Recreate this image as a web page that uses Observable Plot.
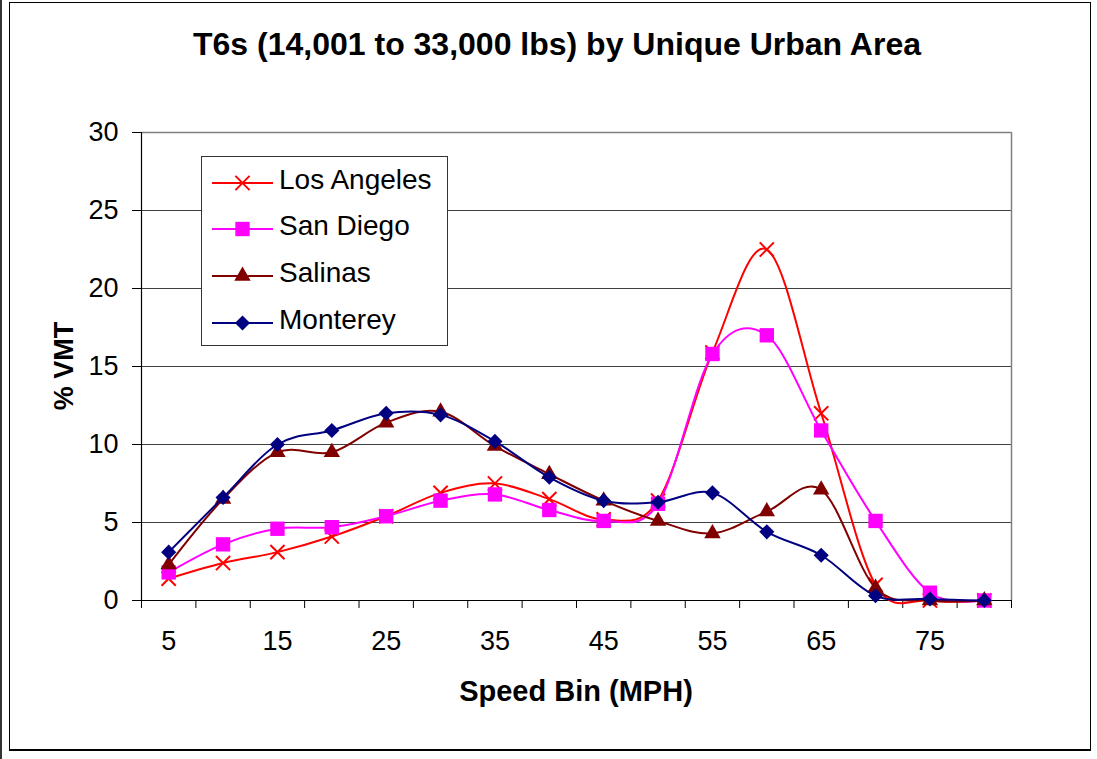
<!DOCTYPE html>
<html>
<head>
<meta charset="utf-8">
<script src="https://cdn.jsdelivr.net/npm/d3@7"></script>
<script src="https://cdn.jsdelivr.net/npm/@observablehq/plot@0.6"></script>
<style>
  html, body { margin: 0; padding: 0; background: #fff; }
  #chart { position: relative; width: 1097px; height: 759px; overflow: hidden; font-family: "Liberation Sans", Arial, sans-serif; }
  #chart > * { position: absolute; }
  #frame { left: 9px; top: 2px; width: 1082px; height: 749px; box-sizing: border-box; border: 1px solid #000; border-bottom-width: 2px; }
  #edge { left: 0; top: 0; width: 2px; height: 759px; background: #333; }
  #legend { left: 201px; top: 156px; width: 247px; height: 190px; box-sizing: border-box; border: 1px solid #333; background: #fff; }
</style>
</head>
<body>
<div id="chart">
  <div id="edge"></div>
  <div id="frame"></div>
</div>
<script>
// ---- data ----
const bins = [5, 10, 15, 20, 25, 30, 35, 40, 45, 50, 55, 60, 65, 70, 75, 80];
const losAngeles = [1.4, 2.4, 3.1, 4.1, 5.4, 6.9, 7.5, 6.5, 5.2, 6.4, 15.9, 22.5, 12.0, 1.0, 0, 0];
const sanDiego   = [1.8, 3.6, 4.6, 4.7, 5.4, 6.4, 6.8, 5.8, 5.1, 6.2, 15.8, 17.0, 10.9, 5.1, 0.5, 0];
const salinas    = [2.3, 6.5, 9.5, 9.5, 11.4, 12.1, 9.9, 8.1, 6.4, 5.1, 4.3, 5.7, 7.1, 0.8, 0, 0];
const monterey   = [3.1, 6.6, 10.0, 10.9, 12.0, 11.9, 10.2, 7.9, 6.4, 6.3, 6.9, 4.4, 2.9, 0.3, 0.1, 0];
const seriesNames = ["Los Angeles", "San Diego", "Salinas", "Monterey"];
const xTickLabels = [5, 15, 25, 35, 45, 55, 65, 75];
const xBinEdges = [2.5, 7.5, 12.5, 17.5, 22.5, 27.5, 32.5, 37.5, 42.5, 47.5, 52.5, 57.5, 62.5, 67.5, 72.5, 77.5, 82.5];
const yTicks = [0, 5, 10, 15, 20, 25, 30];
const titleText = "T6s (14,001 to 33,000 lbs) by Unique Urban Area";
const xTitle = "Speed Bin (MPH)";
const yTitle = "% VMT";

const styles = [
  {color: "#ff0000", symbol: "times", r: 6.5, stroked: true},
  {color: "#ff00ff", symbol: "square", r: 8.1, stroked: false},
  {color: "#800000", symbol: "triangle", r: 6.1, stroked: false},
  {color: "#000080", symbol: "diamond2", r: 6.8, stroked: false}
];
const valuesList = [losAngeles, sanDiego, salinas, monterey];
const rowsList = valuesList.map(vals => bins.map((b, i) => ({bin: b, value: vals[i]})));

const FONT = "Liberation Sans, Arial, sans-serif";

const seriesMarks = [];
rowsList.forEach((rows, k) => {
  const st = styles[k];
  seriesMarks.push(Plot.line(rows, {x: "bin", y: "value", stroke: st.color, strokeWidth: 2, curve: "cardinal"}));
  seriesMarks.push(Plot.dot(rows, st.stroked
    ? {x: "bin", y: "value", symbol: st.symbol, r: st.r, stroke: st.color, strokeWidth: 2, fill: "none"}
    : {x: "bin", y: "value", symbol: st.symbol, r: st.r, fill: st.color, stroke: "none"}));
});

const plot = Plot.plot({
  width: 1097,
  height: 759,
  marginLeft: 141,
  marginRight: 86,
  marginTop: 132,
  marginBottom: 159,
  style: {fontFamily: FONT, background: "transparent", overflow: "visible"},
  x: {type: "linear", domain: [2.5, 82.5]},
  y: {type: "linear", domain: [0, 30]},
  marks: [
    Plot.gridY([5, 10, 15, 20, 25], {stroke: "#404040", strokeOpacity: 1, strokeWidth: 1}),
    Plot.ruleY([30], {stroke: "#808080", strokeWidth: 1.5}),
    Plot.ruleX([82.5], {stroke: "#808080", strokeWidth: 1.5}),
    Plot.axisY({ticks: yTicks, tickSize: 9, tickPadding: 14, fontSize: 27, label: null, stroke: "#000", fill: "#000"}),
    Plot.axisX({ticks: xTickLabels, tickSize: 0, tickPadding: 30, fontSize: 27, label: null, fill: "#000"}),
    Plot.axisX({ticks: xBinEdges, tickSize: 8, tickFormat: () => "", label: null, stroke: "#000"}),
    Plot.ruleX([2.5], {stroke: "#000", strokeWidth: 1.2}),
    Plot.ruleY([0], {stroke: "#000", strokeWidth: 1.2}),
    ...seriesMarks
  ]
});

const chart = document.getElementById("chart");
plot.style.left = "0px";
plot.style.top = "0px";
chart.appendChild(plot);

// titles overlay
const ov = d3.create("svg").attr("width", 1097).attr("height", 759)
  .style("left", "0px").style("top", "0px").style("font-family", FONT);
ov.append("text").attr("x", 557).attr("y", 55).attr("text-anchor", "middle")
  .attr("font-size", 32).attr("font-weight", "bold").text(titleText);
ov.append("text").attr("x", 576).attr("y", 701).attr("text-anchor", "middle")
  .attr("font-size", 29).attr("font-weight", "bold").text(xTitle);
ov.append("text").attr("transform", "translate(73,366) rotate(-90)").attr("text-anchor", "middle")
  .attr("font-size", 27).attr("font-weight", "bold").text(yTitle);
chart.appendChild(ov.node());

// legend
const lg = d3.create("div").attr("id", "legend");
const ls = lg.append("svg").attr("width", 247).attr("height", 190).style("position", "absolute").style("left", "-1px").style("top", "-1px")
  .style("font-family", FONT);
const rowY = [27, 73, 120, 167];
seriesNames.forEach((name, k) => {
  const st = styles[k];
  const g = ls.append("g").attr("transform", `translate(0,${rowY[k]})`);
  g.append("line").attr("x1", 11).attr("x2", 72).attr("y1", 0).attr("y2", 0).attr("stroke", st.color).attr("stroke-width", 2);
  const sym = {times: d3.symbolTimes, square: d3.symbolSquare, triangle: d3.symbolTriangle, diamond2: d3.symbolDiamond2}[st.symbol];
  const p = g.append("path").attr("transform", "translate(41.5,0)").attr("d", d3.symbol(sym, Math.PI * st.r * st.r)());
  if (st.stroked) p.attr("fill", "none").attr("stroke", st.color).attr("stroke-width", 2);
  else p.attr("fill", st.color);
  g.append("text").attr("x", 78).attr("y", 6).attr("font-size", 28).attr("fill", "#000").text(name);
});
chart.appendChild(lg.node());
</script>
</body>
</html>
